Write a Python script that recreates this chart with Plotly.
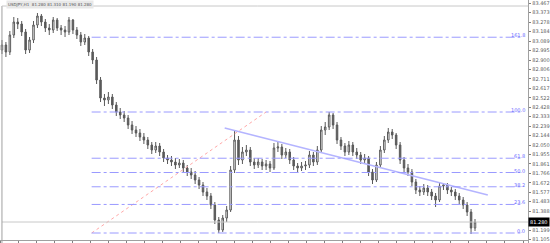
import plotly.graph_objects as go

close = [83.05, 82.98, 83.15, 83.28, 83.26, 83.18, 83.00, 83.10, 83.25, 83.34,
         83.28, 83.22, 83.20, 83.30, 83.22, 83.20, 83.18, 83.30, 83.20, 83.15,
         83.08, 83.12, 82.98, 82.90, 82.70, 82.52, 82.50, 82.53, 82.45, 82.38,
         82.35, 82.32, 82.25, 82.20, 82.17, 82.13, 82.10, 82.05, 82.00, 82.04,
         81.98, 81.92, 81.90, 81.88, 81.85, 81.87, 81.82, 81.78, 81.75, 81.70,
         81.65, 81.58, 81.54, 81.45, 81.30, 81.20, 81.32, 81.40, 81.80, 82.10,
         81.90, 81.98, 82.00, 81.88, 81.85, 81.88, 81.84, 81.86, 81.82, 82.02,
         82.03, 81.95, 81.98, 81.90, 81.84, 81.82, 81.84, 81.85, 81.95, 81.88,
         82.00, 82.20, 82.23, 82.35, 82.25, 82.10, 82.04, 81.98, 82.05, 81.98,
         81.95, 81.90, 81.92, 81.78, 81.70, 81.85, 82.00, 82.10, 82.18, 82.15,
         82.05, 81.90, 81.82, 81.78, 81.68, 81.60, 81.58, 81.62, 81.58, 81.54,
         81.50, 81.64, 81.65, 81.60, 81.58, 81.54, 81.50, 81.45, 81.38, 81.22,
         81.28]
high = [83.10, 83.08, 83.19, 83.33, 83.32, 83.29, 83.21, 83.13, 83.29, 83.37,
        83.36, 83.31, 83.26, 83.33, 83.32, 83.25, 83.24, 83.33, 83.31, 83.23,
        83.18, 83.16, 83.14, 83.01, 82.93, 82.73, 82.56, 82.58, 82.56, 82.48,
        82.42, 82.39, 82.35, 82.29, 82.24, 82.21, 82.17, 82.13, 82.08, 82.08,
        82.07, 82.01, 81.95, 81.94, 81.92, 81.91, 81.90, 81.85, 81.82, 81.79,
        81.73, 81.68, 81.62, 81.57, 81.48, 81.33, 81.35, 81.44, 81.84, 82.20,
        82.14, 82.03, 82.05, 82.03, 81.92, 81.92, 81.91, 81.90, 81.89, 82.07,
        82.08, 82.06, 82.02, 82.01, 81.93, 81.87, 81.88, 81.89, 81.99, 81.98,
        82.04, 82.24, 82.28, 82.38, 82.37, 82.28, 82.13, 82.07, 82.09, 82.08,
        82.02, 81.98, 81.96, 81.94, 81.81, 81.88, 82.04, 82.14, 82.22, 82.21,
        82.17, 82.08, 81.93, 81.86, 81.81, 81.71, 81.64, 81.66, 81.65, 81.61,
        81.57, 81.67, 81.67, 81.67, 81.63, 81.61, 81.57, 81.53, 81.48, 81.41,
        81.31]
low = [82.96, 82.93, 82.95, 83.12, 83.21, 83.14, 82.96, 82.97, 83.07, 83.22,
       83.24, 83.18, 83.15, 83.17, 83.19, 83.15, 83.13, 83.15, 83.16, 83.11,
       83.04, 83.05, 82.94, 82.86, 82.66, 82.48, 82.44, 82.46, 82.41, 82.34,
       82.31, 82.28, 82.21, 82.16, 82.13, 82.09, 82.06, 82.01, 81.96, 81.97,
       81.94, 81.88, 81.86, 81.84, 81.81, 81.82, 81.78, 81.74, 81.71, 81.66,
       81.61, 81.54, 81.50, 81.41, 81.26, 81.17, 81.18, 81.28, 81.38, 81.77,
       81.85, 81.86, 81.94, 81.84, 81.81, 81.82, 81.80, 81.80, 81.78, 81.80,
       81.98, 81.91, 81.92, 81.86, 81.80, 81.78, 81.79, 81.80, 81.82, 81.84,
       81.85, 81.98, 82.15, 82.20, 82.21, 82.06, 82.00, 81.94, 81.95, 81.94,
       81.91, 81.86, 81.87, 81.74, 81.66, 81.68, 81.83, 81.97, 82.07, 82.11,
       82.01, 81.86, 81.78, 81.74, 81.64, 81.56, 81.54, 81.55, 81.54, 81.50,
       81.43, 81.48, 81.60, 81.56, 81.54, 81.50, 81.46, 81.41, 81.34, 81.16,
       81.19]
first_open = 83.00
opens = [first_open] + close[:-1]
bars = list(range(len(close)))

fib_levels = [0.0, 0.236, 0.382, 0.5, 0.618, 1.0, 1.618]
fib_labels = ["0.0", "23.6", "38.2", "50.0", "61.8", "100.0", "161.8"]
fib_low, fib_high = 81.17, 82.38
fib_start_bar, fib_end_bar = 22.75, 67.0
fib_line_end_bar = 131.5
trend_bars = [56.5, 123.25]
trend_prices = [82.22, 81.55]
last_price = 81.28

ytick_vals = [83.467, 83.373, 83.278, 83.184, 83.089, 82.995, 82.900, 82.806,
              82.711, 82.617, 82.522, 82.428, 82.333, 82.239, 82.144, 82.050,
              81.955, 81.861, 81.766, 81.672, 81.577, 81.483, 81.388,
              81.199, 81.105]
ytick_text = [f"{v:.3f}" for v in ytick_vals]

W, H = 550, 243
axis_x = 538 / W

fig = go.Figure()
fig.add_trace(go.Candlestick(
    x=bars, open=opens, high=high, low=low, close=close,
    increasing=dict(line=dict(color="#5a5a5a", width=1), fillcolor="#ffffff"),
    decreasing=dict(line=dict(color="#5a5a5a", width=1), fillcolor="#5a5a5a"),
    whiskerwidth=0, showlegend=False, hoverinfo="skip"))

# trend line
fig.add_trace(go.Scatter(x=trend_bars, y=trend_prices, mode="lines",
                         line=dict(color="#b4b4ff", width=1.5), showlegend=False,
                         hoverinfo="skip"))
# fibo base line
fig.add_trace(go.Scatter(x=[fib_start_bar, fib_end_bar], y=[fib_low, fib_high], mode="lines",
                         line=dict(color="#ffa8a8", width=1, dash="dot"), showlegend=False,
                         hoverinfo="skip"))

for f, lab in zip(fib_levels, fib_labels):
    p = fib_low + f * (fib_high - fib_low)
    fig.add_shape(type="line", x0=fib_start_bar, x1=fib_line_end_bar, y0=p, y1=p,
                  xref="x", yref="y", line=dict(color="#9a9aff", width=1, dash="dashdot"))
    fig.add_annotation(x=axis_x - 1 / W, y=p, xref="paper", yref="y", text=lab,
                       showarrow=False, xanchor="right", yanchor="bottom", yshift=-3,
                       font=dict(size=5, color="#6a6aff", family="DejaVu Sans"))

# current price line and box
fig.add_shape(type="line", x0=2 / W, x1=axis_x, y0=last_price, y1=last_price,
              xref="paper", yref="y", line=dict(color="#c8c8c8", width=1))
fig.add_annotation(x=axis_x, y=last_price, xref="paper", yref="y",
                   text=f"{last_price:.3f}", showarrow=False, xanchor="left",
                   bgcolor="#000000", borderpad=1,
                   font=dict(size=5, color="#ffffff", family="DejaVu Sans"))

# frame
fig.add_shape(type="line", x0=2 / W, x1=2 / W, y0=0, y1=(H - 6) / H, xref="paper",
              yref="paper", line=dict(color="#a0a0a0", width=1))
fig.add_shape(type="line", x0=2 / W, x1=axis_x, y0=(H - 6) / H, y1=(H - 6) / H, xref="paper",
              yref="paper", line=dict(color="#c8c8c8", width=1))

fig.add_annotation(x=6 / W, y=1, xref="paper", yref="paper", xanchor="left", yanchor="top",
                   text="USDJPY,H1  81.280 81.310 81.190 81.280", showarrow=False,
                   bgcolor="#e8e8e8",
                   font=dict(size=4, color="#555555", family="DejaVu Sans"))

fig.update_layout(
    width=W, height=H, margin=dict(l=0, r=0, t=0, b=0),
    paper_bgcolor="white", plot_bgcolor="white", boxgap=0.45,
    xaxis=dict(domain=[0, axis_x], range=[-0.5, 133.5], rangeslider=dict(visible=False),
               showgrid=False, zeroline=False, showticklabels=False,
               anchor="free", position=3 / H, showline=True, linecolor="#a0a0a0",
               ticks="outside", ticklen=2, tickcolor="#808080", tick0=-0.5, dtick=4.575),
    yaxis=dict(domain=[0, 1], range=[83.50 - 2.43, 83.50], showgrid=False, zeroline=False,
               side="right", anchor="free", position=axis_x, showline=True,
               linecolor="#a0a0a0", ticks="outside", ticklen=2, tickcolor="#808080",
               tickvals=ytick_vals, ticktext=ytick_text,
               tickfont=dict(size=5, color="#606060", family="DejaVu Sans")),
)

fig.write_html("out.html")
